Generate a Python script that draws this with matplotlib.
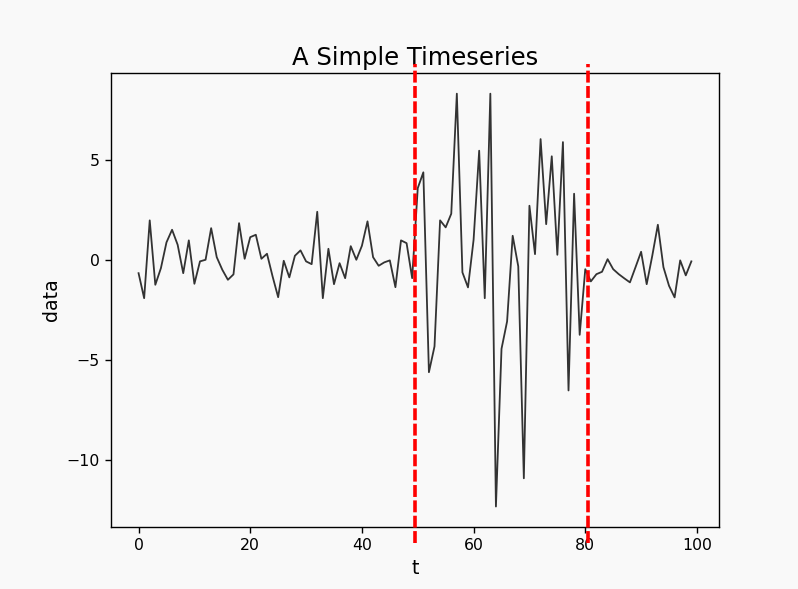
import matplotlib
matplotlib.use("Agg")
import matplotlib.pyplot as plt
import numpy as np

# values, t = 0..99
t = np.arange(100)
data = [-0.67, -1.92, 1.97, -1.25, -0.42, 0.87, 1.5, 0.75, -0.67, 0.97,
        -1.2, -0.08, 0.0, 1.58, 0.13, -0.5, -1.0, -0.73, 1.83, 0.05,
        1.13, 1.25, 0.05, 0.3, -0.83, -1.87, -0.05, -0.88, 0.2, 0.47,
        -0.08, -0.22, 2.4, -1.92, 0.55, -1.22, -0.17, -0.92, 0.68, 0.0,
        0.7, 1.92, 0.13, -0.3, -0.13, -0.03, -1.37, 0.97, 0.83, -0.92,
        3.58, 4.37, -5.62, -4.33, 1.97, 1.62, 2.3, 8.3, -0.63, -1.38,
        1.0, 5.45, -1.92, 8.3, -12.33, -4.45, -3.08, 1.2, -0.33, -10.92,
        2.7, 0.28, 6.03, 1.78, 5.17, 0.25, 5.88, -6.53, 3.3, -3.75,
        -0.47, -1.08, -0.72, -0.6, 0.03, -0.47, -0.72, -0.93, -1.13, -0.37,
        0.4, -1.22, 0.2, 1.75, -0.37, -1.3, -1.88, -0.03, -0.78, -0.08]
breaks = [49.5, 80.5]

bg = "#f9f9f9"
fig = plt.figure(figsize=(7.98, 5.89), dpi=100, facecolor=bg)
ax = fig.add_axes([0.139, 0.105, 0.762, 0.771])
ax.set_facecolor(bg)

ax.plot(t, data, color="#333333", lw=1.3)
for b in breaks:
    ax.axvline(b, ymin=-0.035, ymax=1.02, color="red", lw=2.6,
               linestyle=(0, (3.3, 0.95)), clip_on=False, zorder=5)

ax.set_xticks([0, 20, 40, 60, 80, 100])
ax.set_yticks([-10, -5, 0, 5])
ax.tick_params(labelsize=11.3, length=4.5, width=1)
for s in ax.spines.values():
    s.set_linewidth(1)
ax.set_title("A Simple Timeseries", fontsize=17.5)
ax.set_xlabel("t", fontsize=13.7)
ax.set_ylabel("data", fontsize=13.7)

fig.savefig("out.png", dpi=100, facecolor=bg)
